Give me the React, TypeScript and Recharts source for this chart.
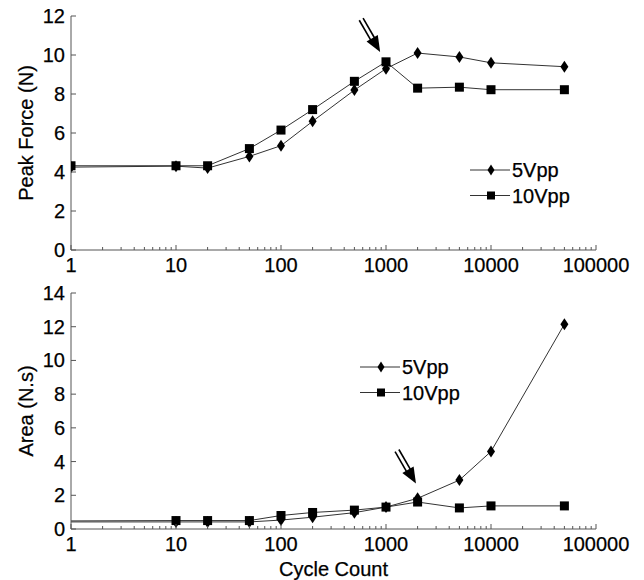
import { LineChart, Line, XAxis, YAxis, Legend, ReferenceDot } from 'recharts';

// cycle counts (log x axis)
const cycles = [1, 10, 20, 50, 100, 200, 500, 1000, 2000, 5000, 10000, 50000];

// peak force (N)
const force5 = [4.25, 4.3, 4.2, 4.8, 5.35, 6.6, 8.2, 9.3, 10.1, 9.9, 9.6, 9.4];
const force10 = [4.32, 4.32, 4.32, 5.2, 6.15, 7.2, 8.65, 9.65, 8.3, 8.35, 8.22, 8.22];

// area (N.s)
const area5 = [0.42, 0.42, 0.42, 0.42, 0.53, 0.7, 0.97, 1.3, 1.82, 2.9, 4.6, 12.15];
const area10 = [0.48, 0.5, 0.5, 0.5, 0.8, 0.98, 1.12, 1.3, 1.6, 1.25, 1.37, 1.37];

const xMajor = [1, 10, 100, 1000, 10000, 100000];
const forceTicks = [0, 2, 4, 6, 8, 10, 12];
const areaTicks = [0, 2, 4, 6, 8, 10, 12, 14];

// arrow tips (annotation)
const forceArrow = { x: 880, y: 10.15 };
const areaArrow = { x: 1930, y: 2.7 };

const xMinor: number[] = [];
for (let d = 1; d < 100000; d *= 10) {
  for (let m = 2; m <= 9; m++) xMinor.push(d * m);
}
const xTicks = [...xMajor, ...xMinor].sort((a, b) => a - b);

const forceData = cycles.map((c, i) => ({ c, v5: force5[i], v10: force10[i] }));
const areaData = cycles.map((c, i) => ({ c, v5: area5[i], v10: area10[i] }));

const AXIS = '#555';
const LINE = '#333';
const FONT = 20;

function XTick({ x, y, payload }: any) {
  const major = xMajor.includes(payload.value);
  return (
    <g>
      <line x1={x} x2={x} y1={y} y2={y - (major ? 5 : 3)} stroke={AXIS} />
      {major && (
        <text x={x} y={y + 22} textAnchor="middle" fontSize={FONT} fill="#000" stroke="#000" strokeWidth={0.25}>
          {payload.value}
        </text>
      )}
    </g>
  );
}

function YTick({ x, y, payload }: any) {
  return (
    <g>
      <line x1={x} x2={x + 5} y1={y} y2={y} stroke={AXIS} />
      <text x={x - 6} y={y + 7} textAnchor="end" fontSize={FONT} fill="#000" stroke="#000" strokeWidth={0.25}>
        {payload.value}
      </text>
    </g>
  );
}

function Diamond({ cx, cy, w = 4, h = 6 }: any) {
  return <polygon points={`${cx},${cy - h} ${cx + w},${cy} ${cx},${cy + h} ${cx - w},${cy}`} fill="#000" />;
}

function Square({ cx, cy, s = 4.5 }: any) {
  return <rect x={cx - s} y={cy - s} width={s * 2} height={s * 2} fill="#000" />;
}

function diamondDot(skipFirst: boolean) {
  return (p: any) => {
    if (skipFirst && p.index === 0) return <g key={p.key} />;
    return <Diamond key={p.key} cx={p.cx} cy={p.cy} />;
  };
}

function squareDot(skipFirst: boolean) {
  return (p: any) => {
    if (skipFirst && p.index === 0) return <g key={p.key} />;
    return <Square key={p.key} cx={p.cx} cy={p.cy} />;
  };
}

function Arrow({ cx, cy }: any) {
  const ux = 0.5;
  const uy = 0.866;
  const px = -uy;
  const py = ux;
  const headLen = 16;
  const half = 6.5;
  const bx = cx - ux * headLen;
  const by = cy - uy * headLen;
  const tail = 38;
  const tx = cx - ux * tail;
  const ty = cy - uy * tail;
  const g = 2.2;
  return (
    <g>
      <line x1={tx + px * g} y1={ty + py * g} x2={bx + px * g + ux} y2={by + py * g + uy} stroke="#000" strokeWidth={1.6} />
      <line x1={tx - px * g} y1={ty - py * g} x2={bx - px * g + ux} y2={by - py * g + uy} stroke="#000" strokeWidth={1.6} />
      <polygon
        points={`${cx},${cy} ${bx + px * half},${by + py * half} ${bx - px * half},${by - py * half}`}
        fill="#000"
      />
    </g>
  );
}

function LegendBox() {
  const rows = [
    { name: '5Vpp', mark: 'd' },
    { name: '10Vpp', mark: 's' },
  ];
  return (
    <svg width={130} height={60} style={{ display: 'block' }}>
      {rows.map((r, i) => {
        const y = 12 + i * 25.5;
        return (
          <g key={r.name}>
            <line x1={0} x2={40} y1={y} y2={y} stroke={LINE} />
            {r.mark === 'd' ? <Diamond cx={21} cy={y} w={3.5} h={5.5} /> : <Square cx={21} cy={y} s={4} />}
            <text x={42} y={y + 7} fontSize={FONT} fill="#000" stroke="#000" strokeWidth={0.25}>
              {r.name}
            </text>
          </g>
        );
      })}
    </svg>
  );
}

function yTitle(text: string) {
  return ({ viewBox }: any) => {
    const cy = viewBox.y + viewBox.height / 2;
    const cx = 33;
    return (
      <text
        x={cx}
        y={cy}
        transform={`rotate(-90, ${cx}, ${cy})`}
        textAnchor="middle"
        fontSize={FONT}
        fill="#000"
        stroke="#000"
        strokeWidth={0.25}
      >
        {text}
      </text>
    );
  };
}

export default function App() {
  return (
    <div
      style={{
        position: 'absolute',
        left: 0,
        top: 0,
        width: 644,
        height: 580,
        background: '#fff',
        fontFamily: '"Liberation Sans", Arial, sans-serif',
      }}
    >
      <div style={{ position: 'absolute', left: 0, top: 0 }}>
        <LineChart width={644} height={280} data={forceData} margin={{ top: 16, right: 48, left: 11, bottom: 0 }}>
          <XAxis
            dataKey="c"
            type="number"
            scale="log"
            domain={[1, 100000]}
            ticks={xTicks}
            interval={0}
            tick={<XTick />}
            tickLine={false}
            tickSize={0}
            tickMargin={0}
            height={30}
            stroke={AXIS}
            allowDataOverflow
          />
          <YAxis
            type="number"
            domain={[0, 12]}
            ticks={forceTicks}
            interval={0}
            tick={<YTick />}
            tickLine={false}
            tickSize={0}
            tickMargin={0}
            width={60}
            stroke={AXIS}
            label={yTitle('Peak Force (N)')}
          />
          <Legend
            layout="vertical"
            align="center"
            verticalAlign="middle"
            content={() => <LegendBox />}
            wrapperStyle={{ left: 470, top: 158, width: 130 }}
          />
          <Line dataKey="v10" name="10Vpp" stroke={LINE} strokeWidth={1} dot={squareDot(false)} isAnimationActive={false} />
          <Line dataKey="v5" name="5Vpp" stroke={LINE} strokeWidth={1} dot={diamondDot(false)} isAnimationActive={false} />
          <ReferenceDot x={forceArrow.x} y={forceArrow.y} shape={(p: any) => <Arrow cx={p.cx} cy={p.cy} />} />
        </LineChart>
      </div>
      <div style={{ position: 'absolute', left: 0, top: 280 }}>
        <LineChart width={644} height={300} data={areaData} margin={{ top: 13, right: 48, left: 11, bottom: 0 }}>
          <XAxis
            dataKey="c"
            type="number"
            scale="log"
            domain={[1, 100000]}
            ticks={xTicks}
            interval={0}
            tick={<XTick />}
            tickLine={false}
            tickSize={0}
            tickMargin={0}
            height={51}
            stroke={AXIS}
            allowDataOverflow
            label={(p: any) => (
              <text
                x={p.viewBox.x + p.viewBox.width / 2}
                y={296}
                textAnchor="middle"
                fontSize={FONT}
                fill="#000"
                stroke="#000"
                strokeWidth={0.25}
              >
                Cycle Count
              </text>
            )}
          />
          <YAxis
            type="number"
            domain={[0, 14]}
            ticks={areaTicks}
            interval={0}
            tick={<YTick />}
            tickLine={false}
            tickSize={0}
            tickMargin={0}
            width={60}
            stroke={AXIS}
            label={yTitle('Area (N.s)')}
          />
          <Legend
            layout="vertical"
            align="center"
            verticalAlign="middle"
            content={() => <LegendBox />}
            wrapperStyle={{ left: 360, top: 75, width: 130 }}
          />
          <Line dataKey="v10" name="10Vpp" stroke={LINE} strokeWidth={1} dot={squareDot(true)} isAnimationActive={false} />
          <Line dataKey="v5" name="5Vpp" stroke={LINE} strokeWidth={1} dot={diamondDot(true)} isAnimationActive={false} />
          <ReferenceDot x={areaArrow.x} y={areaArrow.y} shape={(p: any) => <Arrow cx={p.cx} cy={p.cy} />} />
        </LineChart>
      </div>
    </div>
  );
}
